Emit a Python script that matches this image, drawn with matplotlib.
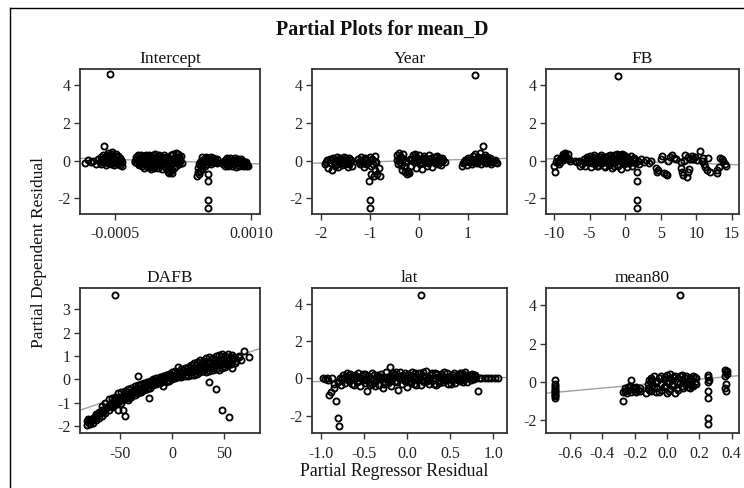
import numpy as np
import matplotlib
matplotlib.use("Agg")
import matplotlib.pyplot as plt
from matplotlib.lines import Line2D
from matplotlib.ticker import FixedLocator, FixedFormatter

plt.rcParams["font.family"] = ["Liberation Serif", "DejaVu Serif"]
plt.rcParams["axes.unicode_minus"] = False

# ---- partial regression residuals (x, y) per regressor ----
# Intercept x values are in units of 1e-4
intercept_pts = [
    (-8.3, -0.15), (-8.0, 0.05), (-7.7, -0.1), (-7.4, 0.0), (-7.1, -0.2), (-6.9, 0.1), (-6.7, -0.05),
    (-6.6, 0.2), (-6.5, -0.2), (-6.4, 0.1), (-6.3, 0.3), (-6.2, 0.75), (-6.2, -0.1), (-6.1, 0.0),
    (-6.0, 0.25), (-5.95, -0.25), (-5.9, 0.1), (-5.8, 0.4), (-5.75, -0.15), (-5.7, 0.2), (-5.6, 0.0),
    (-5.55, 4.6), (-5.5, 0.35), (-5.45, -0.2), (-5.4, 0.15), (-5.3, 0.45), (-5.25, -0.05), (-5.2, 0.25),
    (-5.1, -0.25), (-5.0, 0.1), (-4.95, 0.35), (-4.9, -0.1), (-4.8, 0.2), (-4.7, -0.2), (-4.6, 0.1),
    (-4.5, -0.05), (-4.4, -0.25), (-4.3, 0.05), (-4.2, -0.3),
    (-6.45, 0.0), (-6.15, 0.15), (-5.85, -0.05), (-5.65, 0.3), (-5.35, -0.1), (-5.15, 0.0),
    (-4.85, 0.05), (-4.65, 0.25), (-4.45, 0.15), (-4.25, -0.1), (-6.05, -0.1), (-5.05, -0.15),
    (-2.8, 0.0), (-2.7, 0.2), (-2.6, -0.15), (-2.5, 0.3), (-2.45, 0.05), (-2.35, -0.25), (-2.3, 0.15),
    (-2.2, -0.05), (-2.1, 0.3), (-2.05, -0.3), (-2.0, 0.1), (-1.9, -0.15), (-1.8, 0.25), (-1.75, -0.4),
    (-1.7, 0.05), (-1.6, 0.3), (-1.55, -0.2), (-1.5, 0.1), (-1.4, -0.35), (-1.35, 0.2), (-1.3, -0.05),
    (-1.2, 0.3), (-1.1, -0.25), (-1.05, 0.1), (-1.0, -0.45), (-0.9, 0.2), (-0.85, -0.1), (-0.8, 0.3),
    (-0.7, -0.3), (-0.6, 0.05), (-0.55, 0.35), (-0.5, -0.2), (-0.4, 0.15), (-0.3, -0.4), (-0.25, 0.25),
    (-0.2, -0.05), (-0.1, 0.3), (0.0, -0.25), (0.05, 0.1), (0.15, -0.45), (0.2, 0.2), (0.3, -0.1),
    (0.35, 0.3), (0.45, -0.3), (0.5, 0.05), (0.6, -0.15), (0.65, 0.2),
    (-2.75, -0.1), (-2.55, 0.1), (-2.25, 0.0), (-2.15, -0.2), (-1.95, 0.2), (-1.65, -0.05),
    (-1.45, 0.25), (-1.25, 0.05), (-0.95, -0.15), (-0.75, 0.1), (-0.45, 0.0), (-0.15, 0.1),
    (0.1, -0.1), (0.25, 0.05), (0.4, 0.15), (0.55, -0.05), (-1.15, -0.35), (-0.65, -0.4),
    (-0.35, -0.25), (0.55, -0.35),
    (0.8, -0.6), (0.9, -0.2), (0.95, -0.65), (1.0, 0.1), (1.1, -0.55), (1.15, -0.3), (1.2, 0.3),
    (1.3, -0.5), (1.35, 0.0), (1.4, 0.35), (1.5, -0.4), (1.55, 0.15), (1.6, -0.1), (1.7, 0.4),
    (1.75, -0.3), (1.8, 0.2), (1.9, 0.05), (2.0, 0.35), (2.05, -0.2), (2.1, 0.2), (2.2, 0.0),
    (2.3, 0.25), (2.35, -0.15),
    (1.05, -0.4), (1.25, -0.2), (1.45, 0.1), (1.65, 0.2), (1.85, -0.05), (2.15, 0.1), (1.25, -0.65),
    (4.1, -0.8), (4.15, -0.6), (4.2, -0.4), (4.3, -0.2), (4.35, -0.55), (4.45, 0.0), (4.5, -0.3),
    (4.6, 0.2), (4.65, -0.45), (4.75, -0.1), (4.8, 0.1), (4.9, -0.3), (5.0, 0.2), (5.05, -0.05),
    (5.15, 0.15), (5.2, -0.2), (5.3, -0.7), (5.3, -1.1), (5.3, -2.1), (5.3, -2.5), (5.35, 0.1),
    (5.45, -0.1), (5.55, 0.2), (5.6, -0.2), (5.7, 0.05), (5.8, 0.15), (5.9, -0.1), (6.0, 0.1),
    (6.1, -0.05), (6.2, 0.1), (6.3, -0.15),
    (4.4, -0.1), (4.7, 0.05), (4.95, -0.1), (5.1, 0.05), (5.5, 0.05), (5.75, -0.05), (6.05, 0.0),
    (4.25, -0.7),
    (6.9, -0.2), (7.0, 0.0), (7.1, -0.3), (7.2, 0.1), (7.3, -0.15), (7.35, 0.15), (7.45, -0.3),
    (7.55, 0.0), (7.6, -0.2), (7.7, 0.15), (7.8, -0.1), (7.9, -0.3), (8.0, 0.05), (8.1, -0.2),
    (8.2, 0.15), (8.3, -0.35), (8.4, 0.0), (8.5, -0.15), (8.6, 0.1), (8.7, -0.3), (8.8, -0.05),
    (8.9, -0.2), (9.0, 0.0), (9.1, -0.3), (9.2, -0.1), (9.3, -0.2), (9.45, -0.1), (9.6, -0.25),
    (9.7, -0.3),
    (7.05, -0.1), (7.4, 0.05), (7.75, 0.0), (8.05, -0.1), (8.35, 0.05), (8.65, -0.15), (8.95, 0.1),
    (9.25, -0.05), (9.5, -0.3),
]

year_pts = [
    (-1.92, -0.2), (-1.88, 0.05), (-1.85, -0.4), (-1.82, 0.1), (-1.8, -0.15), (-1.77, -0.5),
    (-1.75, 0.15), (-1.72, -0.3), (-1.7, 0.0), (-1.67, 0.2), (-1.65, -0.35), (-1.62, -0.1),
    (-1.6, 0.15), (-1.57, -0.25), (-1.55, 0.05), (-1.52, 0.2), (-1.5, -0.2), (-1.47, 0.0),
    (-1.45, -0.35), (-1.42, 0.15), (-1.4, -0.1), (-1.37, -0.3),
    (-1.9, -0.05), (-1.78, 0.05), (-1.73, -0.1), (-1.68, -0.2), (-1.63, 0.05), (-1.58, 0.1),
    (-1.53, -0.1), (-1.48, 0.15), (-1.43, -0.2), (-1.39, 0.05),
    (-1.24, 0.1), (-1.21, -0.2), (-1.18, 0.2), (-1.15, -0.05), (-1.12, -0.35), (-1.1, 0.15),
    (-1.07, -0.2), (-1.05, 0.05), (-1.02, -1.1), (-1.0, -2.1), (-1.0, -2.5), (-1.0, 0.2),
    (-0.98, -0.7), (-0.97, -0.3), (-0.95, 0.1), (-0.92, -0.8), (-0.9, 0.25), (-0.9, -0.5),
    (-0.87, -0.05), (-0.85, -0.7), (-0.82, -0.4), (-0.8, -0.8), (-0.9, -0.1),
    (-1.22, -0.05), (-1.17, 0.05), (-1.13, -0.15), (-1.08, 0.1), (-1.04, -0.1), (-0.96, 0.05),
    (-0.93, -0.2),
    (-0.45, 0.3), (-0.43, -0.2), (-0.41, 0.1), (-0.4, 0.4), (-0.38, -0.05), (-0.36, 0.2),
    (-0.35, -0.5), (-0.33, 0.35), (-0.3, -0.3), (-0.28, -0.6), (-0.27, 0.0), (-0.25, -0.7),
    (-0.22, -0.55), (-0.2, -0.65),
    (-0.44, 0.05), (-0.39, 0.2), (-0.37, -0.25), (-0.32, 0.1), (-0.29, -0.1),
    (-0.17, 0.1), (-0.15, -0.3), (-0.12, 0.3), (-0.1, -0.1), (-0.08, 0.2), (-0.05, -0.4),
    (-0.03, 0.0), (0.0, 0.3), (0.02, -0.2), (0.05, 0.1), (0.07, -0.45), (0.1, 0.25), (0.12, -0.1),
    (0.15, 0.05), (0.17, -0.3), (0.2, 0.3), (0.22, -0.05), (0.25, 0.15), (0.27, -0.35), (0.3, 0.2),
    (0.33, -0.15), (0.35, 0.05), (0.38, 0.25), (0.4, -0.2), (0.43, 0.1), (0.46, -0.1), (0.5, 0.05),
    (0.53, -0.05), (-0.08, 0.35),
    (-0.14, 0.1), (-0.09, 0.0), (-0.04, 0.15), (0.01, 0.05), (0.04, -0.05), (0.08, 0.1),
    (0.13, 0.15), (0.18, -0.15), (0.23, 0.1), (0.28, 0.0), (0.32, -0.05), (0.36, 0.2), (0.41, 0.05),
    (0.45, -0.25), (0.48, 0.15),
    (0.88, -0.3), (0.92, -0.1), (0.95, 0.05), (0.98, -0.25), (1.0, 0.15), (1.03, -0.1), (1.05, 0.1),
    (1.08, -0.2), (1.1, 0.25), (1.12, 0.0), (1.14, 4.55), (1.15, 0.35), (1.18, -0.15), (1.2, 0.2),
    (1.22, 0.0), (1.25, 0.4), (1.27, -0.2), (1.3, 0.2), (1.31, 0.75), (1.33, 0.0), (1.36, 0.3),
    (1.38, -0.15), (1.4, 0.1), (1.43, -0.05), (1.46, 0.15), (1.5, -0.1), (1.55, 0.05), (1.6, -0.15),
    (0.9, -0.15), (0.97, 0.0), (1.02, 0.05), (1.07, 0.0), (1.11, -0.1), (1.17, 0.1), (1.21, -0.1),
    (1.24, 0.15), (1.29, 0.05), (1.34, -0.1), (1.39, 0.2), (1.44, 0.05), (1.48, -0.2), (1.52, 0.0),
    (1.58, -0.05),
]

fb_pts = [
    (-10.0, -0.3), (-9.85, -0.6), (-9.7, -0.1), (-9.5, 0.0), (-9.3, -0.2), (-9.1, 0.1), (-8.9, 0.2),
    (-8.7, 0.35), (-8.5, 0.4), (-8.3, 0.2), (-8.1, 0.35), (-7.9, 0.1), (-7.8, 0.0),
    (-9.6, 0.15), (-9.2, -0.05), (-8.8, 0.05), (-8.6, 0.2), (-8.4, 0.3), (-8.2, 0.1),
    (-7.0, 0.0), (-6.7, -0.1), (-6.5, 0.0), (-6.3, -0.3), (-6.0, -0.2),
    (-5.8, 0.1), (-5.6, -0.3), (-5.4, 0.2), (-5.2, -0.1), (-5.0, 0.25), (-4.8, -0.35), (-4.6, 0.05),
    (-4.4, 0.3), (-4.2, -0.2), (-4.0, 0.15), (-3.8, -0.3), (-3.6, 0.1), (-3.4, 0.3), (-3.2, -0.15),
    (-3.0, 0.2), (-2.8, -0.35), (-2.6, 0.0), (-2.4, 0.25), (-2.2, -0.25), (-2.0, 0.15), (-1.8, -0.4),
    (-1.6, 0.3), (-1.4, -0.1), (-1.2, 0.35), (-1.0, -0.3), (-0.93, 4.5), (-0.8, 0.2), (-0.6, -0.45),
    (-0.4, 0.35), (-0.2, -0.2), (0.0, 0.2), (0.2, -0.35), (0.4, 0.1), (0.6, -0.15), (0.8, 0.25),
    (1.0, -0.3), (1.2, 0.05), (1.4, -0.15), (1.65, -0.6), (1.65, -1.1), (1.65, -2.1), (1.65, -2.5),
    (1.8, 0.0), (2.0, -0.2), (2.3, 0.1), (2.6, -0.1), (3.0, 0.05), (3.3, -0.15), (3.6, 0.0),
    (-5.5, 0.0), (-4.9, 0.1), (-4.3, -0.05), (-3.7, -0.1), (-3.1, 0.0), (-2.5, -0.1), (-1.9, 0.05),
    (-1.3, 0.1), (-0.7, 0.0), (-0.1, 0.05), (0.5, -0.05), (1.1, 0.1), (-2.1, 0.3), (-0.3, 0.1),
    (-5.7, -0.1), (-5.3, 0.1), (-4.7, -0.15), (-4.5, 0.2), (-4.1, 0.0), (-3.9, -0.1), (-3.5, 0.2),
    (-3.3, 0.05), (-2.9, -0.1), (-2.7, 0.2), (-2.3, 0.05), (-1.7, -0.15), (-1.5, 0.15), (-1.1, 0.05),
    (-0.9, 0.3), (-0.5, -0.1), (-0.1, 0.3), (0.1, -0.15), (0.3, 0.2), (0.7, 0.0), (0.9, -0.1),
    (1.3, 0.15), (-0.5, 0.25), (-1.5, -0.3), (-3.0, -0.3), (-4.0, -0.3),
    (4.3, -0.4), (4.5, -0.6), (4.7, -0.5), (5.0, 0.1), (5.2, 0.25), (5.5, -0.65), (5.7, -0.7),
    (5.9, -0.75), (6.0, 0.0),
    (6.3, 0.2), (6.6, 0.3), (6.9, 0.15), (7.2, 0.1),
    (7.8, -0.1), (7.9, -0.4), (8.0, -0.6), (8.1, -0.75), (8.3, 0.0), (8.5, 0.3), (8.7, -0.85),
    (8.8, -0.6), (8.9, 0.2), (9.0, -0.45), (9.2, 0.1), (9.4, 0.25), (9.6, 0.1), (9.9, 0.2), (10.1, 0.05),
    (10.6, 0.5), (10.8, 0.0), (11.0, 0.15), (11.1, -0.2), (11.3, -0.35), (11.5, -0.5), (11.7, 0.15),
    (11.9, -0.6),
    (12.9, -0.65), (13.0, -0.5), (13.2, -0.35), (13.4, 0.15), (13.6, 0.1), (13.8, 0.0), (14.0, -0.2),
    (14.2, -0.3),
]

dafb_pts = [
    (-82, -1.95), (-82, -1.8), (-79, -1.75), (-79, -1.9), (-76, -1.65), (-76, -1.85), (-73, -1.5),
    (-73, -1.75), (-70, -1.4), (-70, -1.65), (-67, -1.3), (-67, -1.55), (-67, -1.15), (-64, -1.0),
    (-64, -1.45), (-64, -1.25), (-61, -0.85), (-61, -1.3), (-61, -1.1), (-58, -0.8), (-58, -1.2),
    (-58, -1.0), (-55, 3.6), (-55, -0.75), (-55, -1.05), (-55, -0.9), (-52, -0.6), (-52, -0.95),
    (-52, -1.3), (-49, -0.55), (-49, -0.8), (-49, -1.0), (-47, -1.3), (-47, -0.7), (-45, -1.55),
    (-45, -0.5), (-45, -0.85), (-42, -0.4), (-42, -0.65), (-42, -0.9), (-39, -0.35), (-39, -0.55),
    (-39, -0.75), (-36, -0.3), (-36, -0.5), (-36, -0.65), (-33, 0.15), (-33, -0.25), (-33, -0.45),
    (-33, -0.6), (-30, -0.2), (-30, -0.35), (-30, -0.55), (-27, -0.15), (-27, -0.3), (-27, -0.45),
    (-24, -0.1), (-24, -0.25), (-24, -0.4), (-22, -0.8), (-21, -0.05), (-21, -0.2), (-21, -0.35),
    (-18, 0.0), (-18, -0.1), (-18, -0.25), (-15, 0.05), (-15, -0.05), (-15, -0.2), (-12, 0.1),
    (-12, 0.0), (-12, -0.15), (-9, 0.15), (-9, 0.05), (-9, -0.3), (-6, 0.2), (-6, 0.05), (-6, -0.1),
    (-3, 0.25), (-3, 0.1), (-3, -0.05), (0, 0.3), (0, 0.15), (0, 0.0), (3, 0.35), (3, 0.2), (3, 0.05),
    (6, 0.55), (6, 0.3), (6, 0.1), (9, 0.45), (9, 0.25), (9, 0.1), (12, 0.5), (12, 0.3), (12, 0.15),
    (15, 0.55), (15, 0.35), (15, 0.15), (18, 0.6), (18, 0.4), (18, 0.2), (21, 0.7), (21, 0.45),
    (21, 0.2), (24, 0.75), (24, 0.5), (24, 0.25), (27, 0.85), (27, 0.55), (27, 0.3), (30, 0.8),
    (30, 0.6), (30, 0.35), (33, 0.9), (33, 0.6), (33, 0.3), (36, -0.1), (36, 0.95), (36, 0.65),
    (36, 0.35), (39, 0.9), (39, 0.7), (39, 0.4), (42, -0.4), (42, 1.0), (42, 0.7), (42, 0.45),
    (45, 1.05), (45, 0.75), (45, 0.4), (48, -1.3), (48, 1.1), (48, 0.8), (48, 0.5), (51, 1.0),
    (51, 0.75), (51, 0.55), (54, 1.1), (54, 0.85), (54, 0.6), (55, -1.6), (58, 1.05), (58, 0.8),
    (58, 0.5), (61, 0.9), (61, 0.7), (64, 0.95), (64, 1.0), (69, 1.2), (74, 0.95),
    (-80, -1.85), (-74, -1.6), (-68, -1.4), (-62, -1.2), (-56, -1.1), (-50, -0.9), (-44, -0.7),
    (-38, -0.6), (-32, -0.4), (-26, -0.35), (-20, -0.15), (-14, -0.1), (-8, 0.0), (-2, 0.05),
    (4, 0.15), (10, 0.2), (16, 0.3), (22, 0.35), (28, 0.45), (34, 0.5), (40, 0.55), (46, 0.6),
    (52, 0.65), (56, 0.7),
    (-81, -1.7), (-77, -1.75), (-71, -1.5), (-65, -1.35), (-59, -1.15), (-53, -1.0), (-48, -0.9),
    (-43, -0.55), (-41, -0.8), (-37, -0.45), (-34, -0.35), (-31, -0.5), (-28, -0.25), (-25, -0.2),
    (-23, -0.35), (-19, -0.05), (-17, -0.2), (-13, 0.0), (-11, -0.1), (-7, 0.1), (-5, -0.05),
    (-1, 0.2), (1, 0.05), (5, 0.25), (7, 0.15), (11, 0.4), (13, 0.2), (17, 0.5), (19, 0.3),
    (23, 0.6), (25, 0.4), (29, 0.7), (31, 0.45), (35, 0.8), (37, 0.5), (41, 0.85), (43, 0.6),
    (47, 0.95), (49, 0.65), (53, 0.95), (57, 0.65), (60, 0.95), (62, 0.8), (66, 0.85),
]

lat_pts = [
    (-0.97, 0.0), (-0.95, -0.05), (-0.93, 0.05), (-0.91, -0.1), (-0.9, -0.9), (-0.88, -0.75),
    (-0.87, 0.0), (-0.85, -0.5), (-0.84, -0.3), (-0.82, -1.2), (-0.8, -2.15), (-0.79, -2.55),
    (-0.8, -0.2), (-0.78, 0.05), (-0.76, -0.35),
    (-0.74, 0.2), (-0.72, -0.25), (-0.7, 0.1), (-0.68, -0.1), (-0.66, 0.25), (-0.64, -0.3),
    (-0.62, 0.05), (-0.6, 0.2), (-0.58, -0.2), (-0.56, 0.1), (-0.54, -0.4), (-0.52, 0.15),
    (-0.5, -0.1), (-0.48, 0.25), (-0.46, -0.65), (-0.44, -0.2), (-0.42, 0.05), (-0.4, -0.3),
    (-0.38, 0.2), (-0.36, -0.1), (-0.34, 0.1), (-0.32, -0.35), (-0.3, 0.25), (-0.28, -0.5),
    (-0.26, 0.0), (-0.24, 0.35), (-0.22, -0.25), (-0.2, 0.6), (-0.2, 0.15), (-0.18, -0.4),
    (-0.16, 0.3), (-0.14, -0.15), (-0.12, 0.1), (-0.1, -0.6), (-0.08, 0.35), (-0.06, -0.3),
    (-0.04, 0.05), (-0.02, 0.3), (0.0, -0.45), (0.02, 0.2), (0.04, -0.15), (0.06, 0.35),
    (0.08, -0.3), (0.1, 0.1), (0.12, -0.1), (0.14, 0.3), (0.16, 4.5), (0.16, -0.35), (0.18, 0.15),
    (0.2, -0.2), (0.22, 0.4), (0.24, 0.0), (0.26, -0.3), (0.28, 0.2), (0.3, -0.1), (0.32, 0.3),
    (0.34, -0.35), (0.36, 0.1), (0.38, -0.15), (0.4, 0.25), (0.42, -0.2), (0.44, 0.05), (0.46, 0.3),
    (0.48, -0.3), (0.5, 0.15), (0.52, -0.1), (0.54, 0.3), (0.56, -0.25), (0.58, 0.05), (0.6, 0.2),
    (0.62, -0.15), (0.64, 0.3), (0.66, -0.05), (0.68, 0.2), (0.7, -0.2), (0.72, 0.1), (0.74, -0.1),
    (0.76, 0.15), (0.78, -0.05), (0.8, 0.1), (0.82, -0.65), (0.84, 0.0), (0.86, 0.05), (0.9, 0.0),
    (0.94, 0.05), (0.98, 0.0), (1.02, 0.05), (1.05, 0.05),
    (-0.73, -0.05), (-0.69, 0.3), (-0.65, 0.0), (-0.61, -0.35), (-0.57, 0.3), (-0.53, 0.0),
    (-0.49, -0.25), (-0.45, 0.15), (-0.41, 0.3), (-0.37, -0.4), (-0.33, 0.0), (-0.29, 0.1),
    (-0.25, -0.2), (-0.21, -0.05), (-0.17, 0.05), (-0.13, 0.35), (-0.09, 0.0), (-0.05, 0.2),
    (-0.01, -0.2), (0.03, 0.0), (0.07, 0.15), (0.11, -0.35), (0.15, 0.0), (0.19, 0.35),
    (0.23, -0.15), (0.27, 0.05), (0.31, -0.3), (0.35, 0.25), (0.39, 0.0), (0.43, 0.35), (0.47, 0.0),
    (0.51, -0.3), (0.55, 0.1), (0.59, -0.1), (0.63, 0.05), (0.67, 0.35), (0.71, 0.0), (0.75, 0.25),
    (-0.75, 0.0), (-0.71, 0.15), (-0.67, -0.15), (-0.63, 0.15), (-0.59, 0.0), (-0.55, -0.15),
    (-0.51, 0.25), (-0.47, -0.05), (-0.43, -0.35), (-0.39, -0.1), (-0.35, 0.2), (-0.31, 0.1),
    (-0.27, -0.3), (-0.23, 0.1), (-0.19, -0.15), (-0.15, 0.2), (-0.11, -0.2), (-0.07, 0.15),
    (-0.03, -0.1), (0.01, 0.25), (0.05, -0.25), (0.09, 0.3), (0.13, 0.05), (0.17, -0.1),
    (0.21, 0.15), (0.25, -0.1), (0.29, 0.3), (0.33, 0.05), (0.37, -0.25), (0.41, 0.1), (0.45, -0.1),
    (0.49, 0.1), (0.53, 0.2), (0.57, -0.05), (0.61, 0.3), (0.65, -0.2), (0.69, 0.1), (0.73, 0.2),
    (0.77, 0.0), (0.79, 0.2),
]

mean80_pts = [
    (-0.69, 0.1), (-0.69, -0.3), (-0.69, -0.45), (-0.69, -0.55), (-0.69, -0.65), (-0.69, -0.75),
    (-0.69, -0.85), (-0.69, -0.2), (-0.69, -0.1), (-0.69, -0.4), (-0.69, -0.7),
    (-0.27, -1.0), (-0.27, -0.5), (-0.26, -0.3), (-0.25, -0.6), (-0.24, -0.4), (-0.23, -0.2),
    (-0.22, 0.1), (-0.22, -0.5), (-0.21, -0.3), (-0.2, -0.45), (-0.19, -0.25), (-0.18, -0.4),
    (-0.17, -0.3), (-0.26, -0.45), (-0.24, -0.25), (-0.2, -0.3), (-0.19, -0.5), (-0.17, -0.45),
    (-0.13, -0.6), (-0.12, -0.3), (-0.11, 0.1), (-0.1, -0.45), (-0.1, 0.2), (-0.09, -0.15),
    (-0.08, 0.3), (-0.07, -0.55), (-0.07, 0.0), (-0.06, -0.3), (-0.05, 0.2), (-0.04, -0.1),
    (-0.03, -0.4), (-0.02, 0.15), (-0.01, -0.2), (0.0, 0.35), (0.0, -0.6), (0.01, 0.0),
    (0.02, -0.35), (0.02, 0.4), (0.03, 0.1), (0.04, -0.15), (0.05, 0.3), (0.05, -0.6),
    (0.06, -0.3), (0.07, 0.2), (0.08, -0.05), (0.082, 4.55), (0.09, 0.35), (0.1, -0.3), (0.1, 0.1),
    (0.11, -0.1), (0.12, 0.3), (0.13, -0.25), (0.13, 0.05), (0.14, 0.2), (0.15, -0.15), (0.16, 0.3),
    (0.17, 0.0), (0.18, -0.1), (0.18, 0.2),
    (-0.12, -0.1), (-0.11, -0.4), (-0.09, 0.1), (-0.08, -0.3), (-0.06, 0.05), (-0.05, -0.5),
    (-0.04, 0.3), (-0.02, -0.25), (-0.01, 0.25), (0.01, -0.45), (0.03, -0.1), (0.04, 0.25),
    (0.06, 0.0), (0.07, -0.4), (0.08, 0.3), (0.09, -0.2), (0.11, 0.2), (0.12, -0.05), (0.14, -0.3),
    (0.15, 0.1), (0.16, -0.2), (0.17, 0.25), (0.0, 0.0), (0.02, 0.2), (-0.1, 0.0),
    (0.255, 0.35), (0.255, 0.25), (0.255, 0.0), (0.255, -0.45), (0.255, -0.85), (0.255, -1.9),
    (0.255, -2.2), (0.26, 0.1),
    (0.36, 0.6), (0.365, 0.5), (0.37, 0.4), (0.36, 0.3), (0.365, -0.1), (0.36, -0.3),
    (0.365, -0.45), (0.37, 0.55),
]

# fitted partial-regression lines: (intercept, slope) in plotted x units
line_coefs = {
    "Intercept": (-0.013, -0.015),
    "Year": (0.0, 0.065),
    "FB": (-0.031, -0.0118),
    "DAFB": (0.03, 0.0153),
    "lat": (-0.06, 0.1),
    "mean80": (-0.014, 0.77),
}

panel_titles = ["Intercept", "Year", "FB", "DAFB", "lat", "mean80"]

x_ticks = {
    "Intercept": ([-0.0005, 0.0010], ["-0.0005", "0.0010"]),
    "Year": ([-2, -1, 0, 1], ["-2", "-1", "0", "1"]),
    "FB": ([-10, -5, 0, 5, 10, 15], ["-10", "-5", "0", "5", "10", "15"]),
    "DAFB": ([-50, 0, 50], ["-50", "0", "50"]),
    "lat": ([-1.0, -0.5, 0.0, 0.5, 1.0], ["-1.0", "-0.5", "0.0", "0.5", "1.0"]),
    "mean80": ([-0.6, -0.4, -0.2, 0.0, 0.2, 0.4], ["-0.6", "-0.4", "-0.2", "0.0", "0.2", "0.4"]),
}
y_ticks = {
    "Intercept": [-2, 0, 2, 4],
    "Year": [-2, 0, 2, 4],
    "FB": [-2, 0, 2, 4],
    "DAFB": [-2, -1, 0, 1, 2, 3],
    "lat": [-2, 0, 2, 4],
    "mean80": [-2, 0, 2, 4],
}
x_limits = {
    "Intercept": (-0.000887, 0.0011),
    "Year": (-2.18, 1.80),
    "FB": (-11.13, 16.03),
    "DAFB": (-88.5, 84.6),
    "lat": (-1.10, 1.16),
    "mean80": (-0.748, 0.445),
}
y_limits = {
    "Intercept": (-2.84, 4.87),
    "Year": (-2.84, 4.87),
    "FB": (-2.84, 4.87),
    "DAFB": (-2.30, 3.92),
    "lat": (-2.94, 4.88),
    "mean80": (-2.66, 4.89),
}

points = {
    "Intercept": np.array(intercept_pts) * np.array([1e-4, 1.0]),
    "Year": np.array(year_pts),
    "FB": np.array(fb_pts),
    "DAFB": np.array(dafb_pts),
    "lat": np.array(lat_pts),
    "mean80": np.array(mean80_pts),
}
x_unit = {"Intercept": 1e-4}

W, H = 744, 488
fig = plt.figure(figsize=(W / 100, H / 100), dpi=100)

cols = [(80, 260), (312, 507), (546, 739)]
rows = [(69, 214), (288, 433)]

frame_col = "#333333"
for i, name in enumerate(panel_titles):
    r, c = divmod(i, 3)
    x0, x1 = cols[c]
    y0, y1 = rows[r]
    ax = fig.add_axes([x0 / W, 1 - y1 / H, (x1 - x0) / W, (y1 - y0) / H])
    pts = points[name]
    ax.plot(pts[:, 0], pts[:, 1], linestyle="none", marker="o", markersize=4.4,
            markerfacecolor="none", markeredgecolor="black", markeredgewidth=1.35, zorder=3)
    b0, b1 = line_coefs[name]
    xl = np.array(x_limits[name])
    unit = x_unit.get(name, 1.0)
    ax.plot(xl, b0 + b1 * xl / unit, color="#a0a0a0", linewidth=1.0, zorder=2)
    ax.set_xlim(*x_limits[name])
    ax.set_ylim(*y_limits[name])
    tv, tl = x_ticks[name]
    ax.xaxis.set_major_locator(FixedLocator(tv))
    ax.xaxis.set_major_formatter(FixedFormatter(tl))
    ax.set_yticks(y_ticks[name])
    ax.set_yticklabels([str(v) for v in y_ticks[name]])
    for s in ax.spines.values():
        s.set_color(frame_col)
        s.set_linewidth(1.3)
    ax.tick_params(direction="out", length=4.5, width=1.0, color=frame_col,
                   labelsize=11.5, labelcolor="#222222")
    ax.tick_params(axis="x", pad=4.5)
    ax.tick_params(axis="y", pad=2.5)
    ax.set_title(name, fontsize=12.5, pad=4, color="#111111")

fig.text(382 / W, 1 - 30 / H, "Partial Plots for mean_D", ha="center", va="center",
         fontsize=14.4, fontweight="bold", color="#111111")
fig.text(394 / W, 1 - 472 / H, "Partial Regressor Residual", ha="center", va="center",
         fontsize=12.8, color="#111111")
fig.text(39 / W, 1 - 252 / H, "Partial Dependent Residual", ha="center", va="center",
         rotation=90, fontsize=12.5, color="#111111")

# outer border of the graphic
fig.add_artist(Line2D([10 / W, 10 / W], [0, 1 - 8 / H], color="black", linewidth=1.0))
fig.add_artist(Line2D([10 / W, 1], [1 - 8 / H, 1 - 8 / H], color="black", linewidth=1.0))

fig.savefig("out.png", dpi=100)
